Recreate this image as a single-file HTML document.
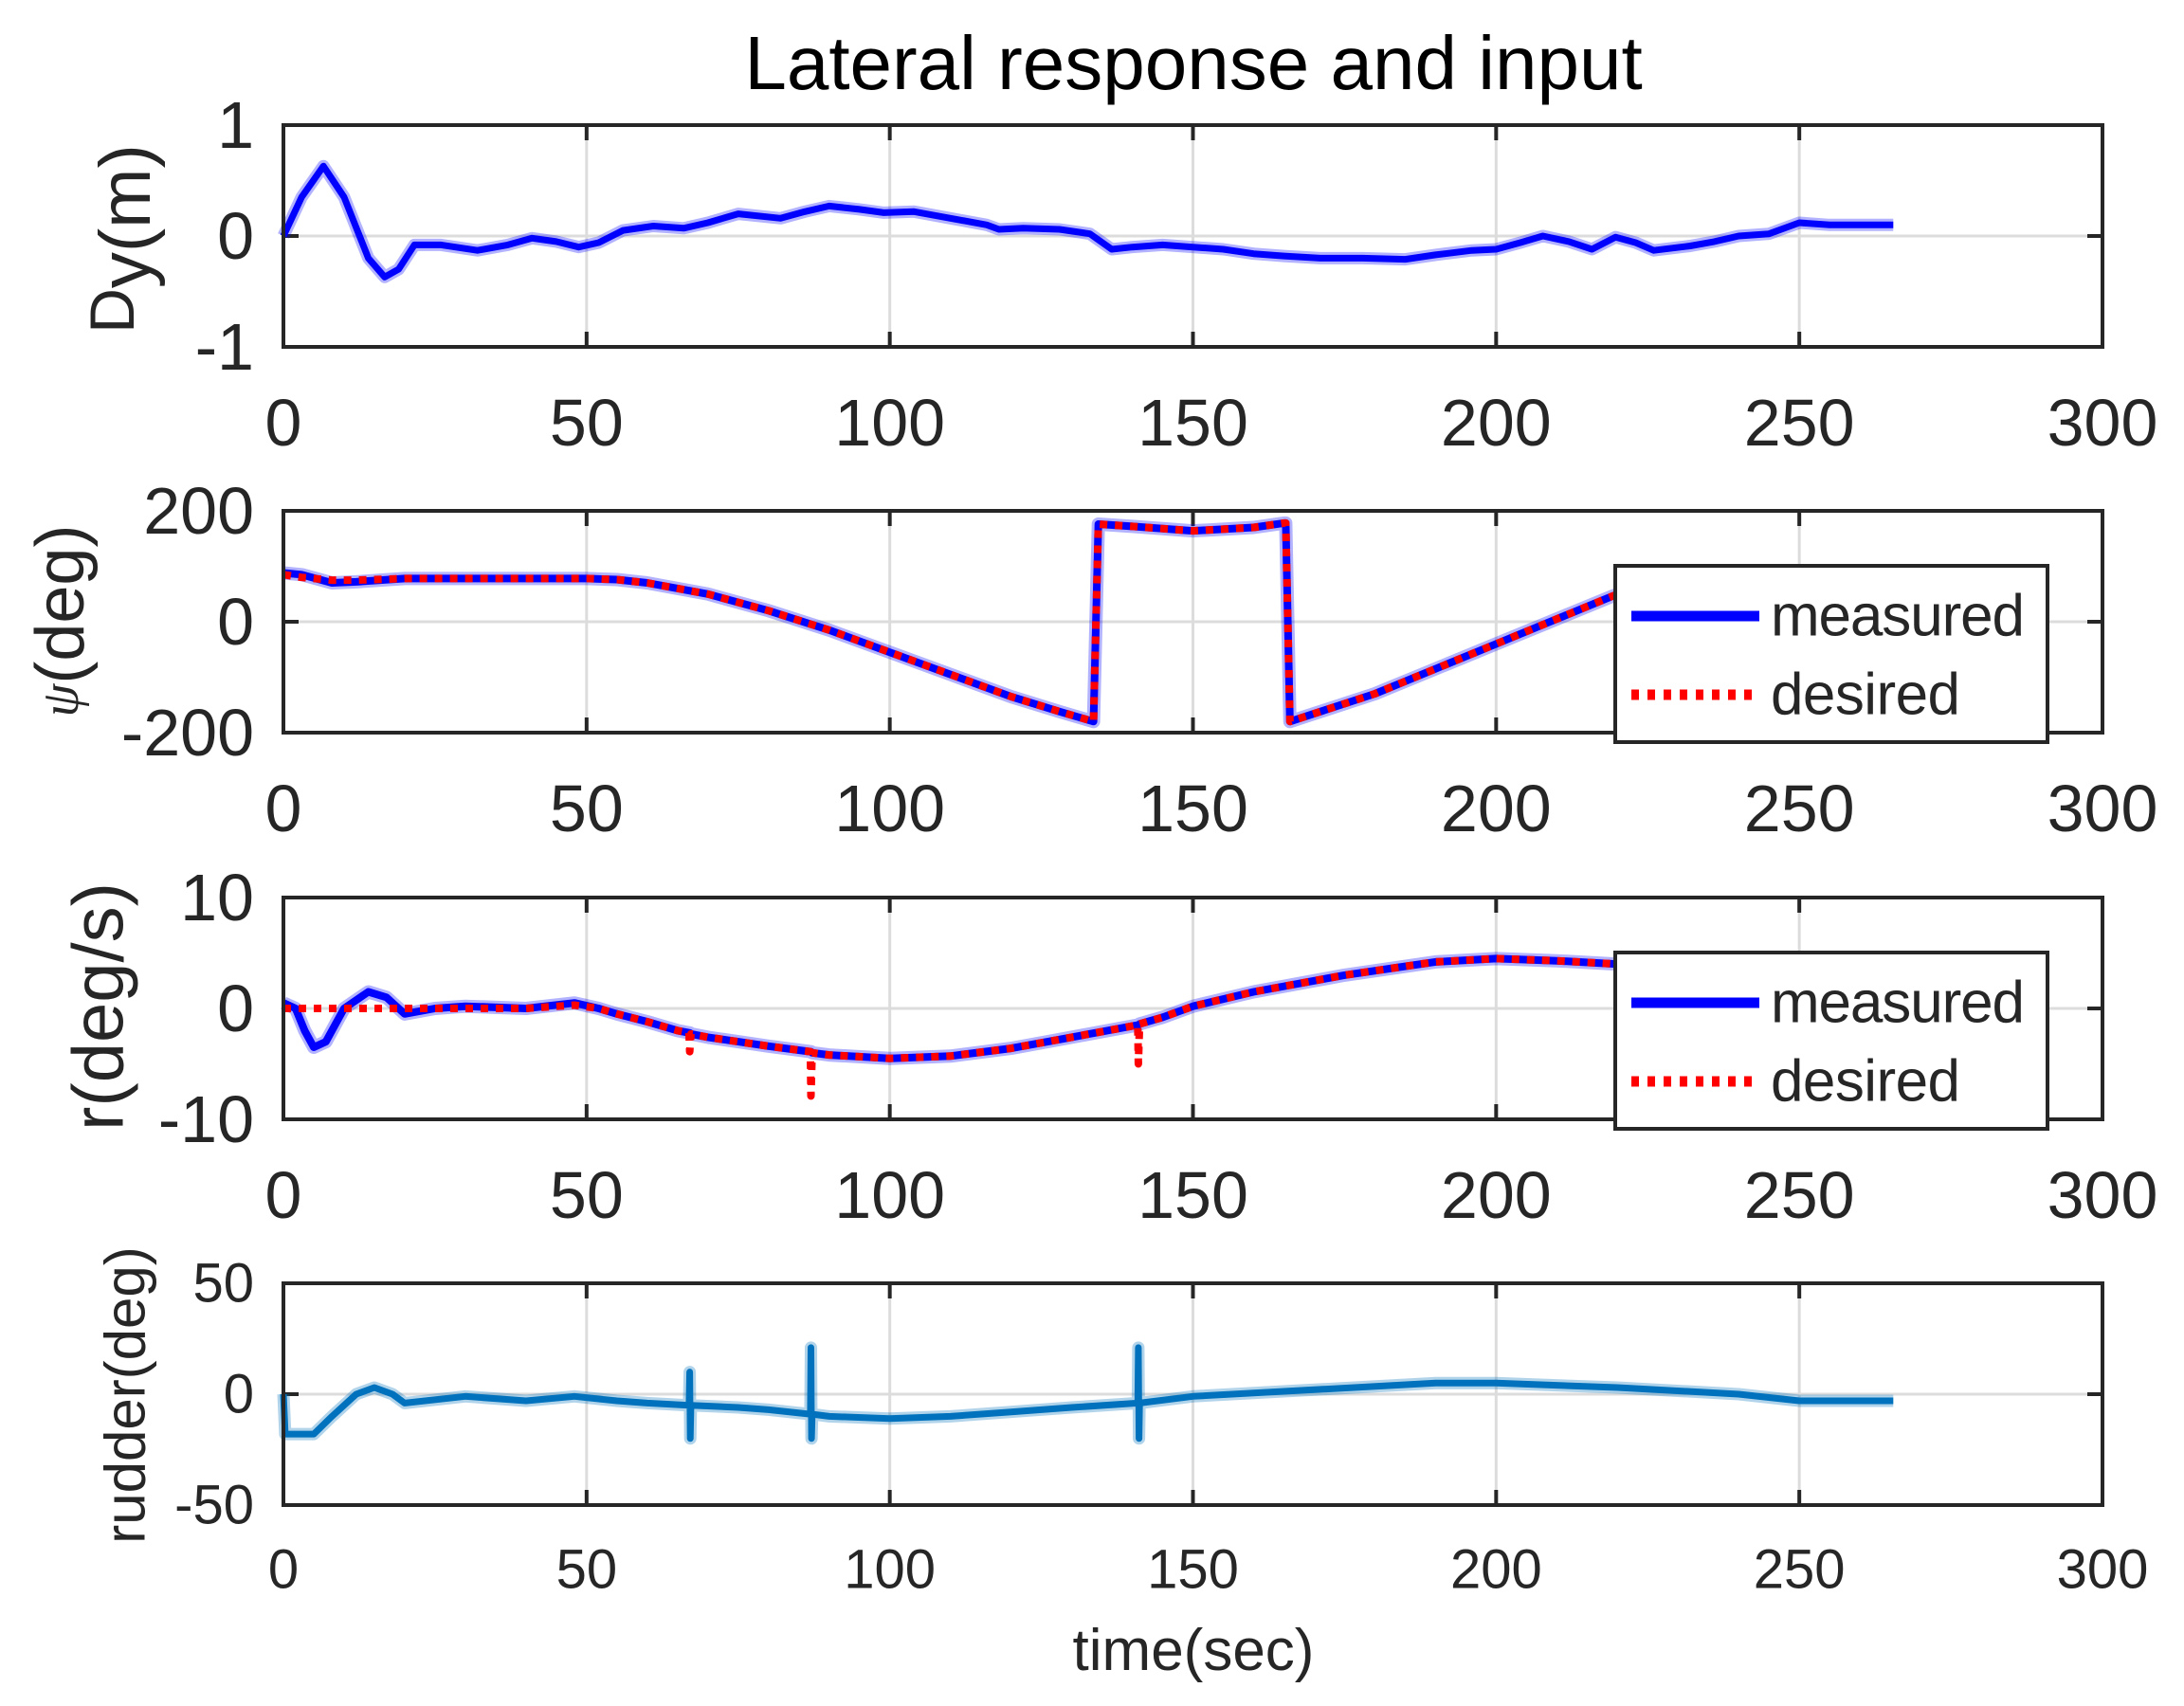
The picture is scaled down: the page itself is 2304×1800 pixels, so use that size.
<!DOCTYPE html>
<html><head><meta charset="utf-8"><style>
html,body{margin:0;padding:0;background:#fff;}
svg{display:block;font-family:"Liberation Sans",sans-serif;}
</style></head><body>
<svg id="fig" width="2304" height="1800" viewBox="0 0 2304 1800"></svg>
<script>
// ---- data ----
const timeTicks = [0,50,100,150,200,250,300];
const dyTicks = [-1,0,1];
const psiTicks = [-200,0,200];
const rTicks = [-10,0,10];
const rudTicks = [-50,0,50];

const dyT = [0,3,6.6,10,14,16.7,19,21.6,26,32,37,41,45,48.7,52,56,61,66,70,75,82,86,90,95,99,104,110,116,118,122,128,133,136.6,140,145,150,155,160,165,171,178,185,190,196,200,204,207.7,212,215.8,219.7,223,226,232,236,240,245,250,255,265.5];
const dyV = [0,0.35,0.63,0.35,-0.2,-0.37,-0.3,-0.08,-0.08,-0.13,-0.08,-0.02,-0.05,-0.1,-0.06,0.05,0.09,0.07,0.12,0.2,0.16,0.22,0.27,0.24,0.21,0.22,0.16,0.1,0.06,0.07,0.06,0.02,-0.12,-0.1,-0.08,-0.1,-0.12,-0.16,-0.18,-0.2,-0.2,-0.21,-0.17,-0.13,-0.12,-0.06,0.0,-0.05,-0.12,-0.01,-0.06,-0.13,-0.09,-0.05,0,0.02,0.12,0.1,0.1];

const psiT = [0,3,8,12,20,35,50,55,60,70,80,90,100,110,120,128,133.6,134.4,140,150,160,165,165.3,166,180,190,200,210,220,240,265];
const psiMeas = [88,85,70,72,78,78,78,76,70,50,20,-15,-55,-95,-135,-162,-180,176,172,164,170,178,178,-180,-130,-85,-40,5,50,70,90];
const psiDes = [85,80,75,75,78,78,78,76,70,50,20,-15,-55,-95,-135,-162,-180,176,172,164,170,178,178,-180,-130,-85,-40,5,50,70,90];

const rT = [0,2,3.5,5,7,10,14,17,20,25,30,40,48,52,55,60,65,66.9,67,67.2,70,75,80,86.9,87,87.2,90,100,110,120,130,140.9,141,141.2,145,150,160,175,190,200,210,220,265];
const rMeas = [0.5,0,-2,-3.5,-3,0,1.5,1,-0.5,0,0.2,0,0.5,0,-0.5,-1.2,-2,-2.2,-2.2,-2.3,-2.6,-3,-3.4,-3.9,-3.9,-4,-4.2,-4.5,-4.3,-3.6,-2.6,-1.5,-1.5,-1.4,-0.8,0.2,1.5,3,4.2,4.5,4.3,4.0,3.5];
const rDes = [0,0,0,0,0,0,0,0,0,0,0,0,0.3,0,-0.5,-1.2,-2,-2.2,-3.9,-2.3,-2.6,-3,-3.4,-3.9,-7.9,-4,-4.2,-4.5,-4.3,-3.6,-2.6,-1.5,-5.0,-1.4,-0.8,0.2,1.5,3,4.2,4.5,4.3,4.0,3.5];

const rudT = [0,0.3,1,5,8,12,15,18,20,30,40,48,55,60,66.9,67,67.1,67.2,75,80,86.9,87,87.1,87.2,90,100,110,120,130,140.9,141,141.1,141.2,150,170,190,200,220,240,250,265.5];
const rudV = [0,-18,-18,-18,-10,0,3,0,-4,-1,-3,-1,-3,-4,-5,10,-20,-5,-6,-7,-9,21,-20,-9,-10,-11,-10,-8,-6,-4,21,-20,-4,-1,2,5,5,3,0,-3,-3];

// ---- layout ----
const NS='http://www.w3.org/2000/svg';
const svg=document.getElementById('fig');
const X0=299, X1=2218;
const panels=[
 {top:132,h:234,min:-1,max:1,ticks:dyTicks,name:'dy',fs:70},
 {top:539,h:234,min:-200,max:200,ticks:psiTicks,name:'psi',fs:70},
 {top:947,h:234,min:-10,max:10,ticks:rTicks,name:'r',fs:70},
 {top:1354,h:234,min:-50,max:50,ticks:rudTicks,name:'rudder',fs:58}
];
function xs(t){return X0+(t-0)/(300-0)*(X1-X0);}
function ysFor(p){return v=>p.top+p.h-(v-p.min)/(p.max-p.min)*p.h;}
function mk(tag,attrs,parent){const e=document.createElementNS(NS,tag);for(const k in attrs)e.setAttribute(k,attrs[k]);(parent||svg).appendChild(e);return e;}
function pathD(T,V,ys){return T.map((t,i)=>(i?'L':'M')+xs(t).toFixed(1)+' '+ys(V[i]).toFixed(1)).join(' ');}

panels.forEach((p,pi)=>{
 const g=mk('g',{});
 
 
 const ys=ysFor(p);
 const bot=p.top+p.h;
 timeTicks.forEach(t=>{const l=mk('line',{x1:xs(t),x2:xs(t),y1:p.top,y2:bot,stroke:'#dcdcdc','stroke-width':3},g);
  });
 p.ticks.forEach(v=>{const l=mk('line',{x1:X0,x2:X1,y1:ys(v),y2:ys(v),stroke:'#dcdcdc','stroke-width':3},g);
  });
 timeTicks.forEach(t=>{mk('line',{x1:xs(t),x2:xs(t),y1:p.top,y2:p.top+16,stroke:'#262626','stroke-width':4},g);
  mk('line',{x1:xs(t),x2:xs(t),y1:bot,y2:bot-16,stroke:'#262626','stroke-width':4},g);});
 p.ticks.forEach(v=>{mk('line',{x1:X0,x2:X0+16,y1:ys(v),y2:ys(v),stroke:'#262626','stroke-width':4},g);
  mk('line',{x1:X1,x2:X1-16,y1:ys(v),y2:ys(v),stroke:'#262626','stroke-width':4},g);});
 timeTicks.forEach(t=>{const tx=mk('text',{x:xs(t),y:bot+80+(pi==3?-12:0),'font-size':pi==3?58:70,'text-anchor':'middle','dominant-baseline':'central',fill:'#262626'},g);
  tx.textContent=t;});
 p.ticks.forEach(v=>{const tx=mk('text',{x:268,y:ys(v),'font-size':p.fs,'text-anchor':'end','dominant-baseline':'central',fill:'#262626'},g);
  tx.textContent=v;});
 p.g=g;p.ys=ys;
});

function series(p,T,V,color,w,dash,name,halo){
 if(halo){const h=mk('path',{d:pathD(T,V,p.ys),fill:'none',stroke:halo,'stroke-width':w+6,'stroke-linejoin':'round','stroke-opacity':0.3},p.g);
  }
 const a={d:pathD(T,V,p.ys),fill:'none',stroke:color,'stroke-width':w,'stroke-linejoin':'round'};
 if(dash)a['stroke-dasharray']=dash;
 const e=mk('path',a,p.g);
 
 
}
series(panels[0],dyT,dyV,'#0000ff',7,null,'dy-measured-line','#0000ff');
series(panels[1],psiT,psiMeas,'#0000ff',8,null,'psi-measured-line','#0000ff');
series(panels[1],psiT,psiDes,'#ff0000',8,'8 8','psi-desired-line',null);
series(panels[2],rT,rMeas,'#0000ff',8,null,'r-measured-line','#0000ff');
series(panels[2],rT,rDes,'#ff0000',8,'8 8','r-desired-line',null);
series(panels[3],rudT,rudV,'#0072bd',7,null,'rudder-line','#0072bd');

panels.forEach(p=>{const r=mk('rect',{x:X0,y:p.top,width:X1-X0,height:p.h,fill:'none',stroke:'#262626','stroke-width':4},p.g);
 });

[1,2].forEach(pi=>{
 const p=panels[pi];
 const top=pi==1?597:1005;
 const g=mk('g',{});
 
 
 mk('rect',{x:1704,y:top,width:456,height:186,fill:'#fff',stroke:'#262626','stroke-width':4},g);
 const e1=mk('g',{},g);
 
 
 mk('line',{x1:1721,x2:1856,y1:top+53,y2:top+53,stroke:'#0000ff','stroke-width':11},e1);
 const t1=mk('text',{x:1868,y:top+53,'font-size':62,'dominant-baseline':'central',fill:'#262626',textLength:268},e1);t1.textContent='measured';
 const e2=mk('g',{},g);
 
 
 mk('line',{x1:1721,x2:1856,y1:top+136,y2:top+136,stroke:'#ff0000','stroke-width':11,'stroke-dasharray':'8 9'},e2);
 const t2=mk('text',{x:1868,y:top+136,'font-size':62,'dominant-baseline':'central',fill:'#262626',textLength:200},e2);t2.textContent='desired';
});
</script>
<script>
(function(){
const NS='http://www.w3.org/2000/svg';const svg=document.getElementById('fig');
function mk(tag,attrs){const e=document.createElementNS(NS,tag);for(const k in attrs)e.setAttribute(k,attrs[k]);svg.appendChild(e);return e;}
const title=mk('text',{x:1259,y:94,'font-size':80,'text-anchor':'middle',fill:'#000'});
title.textContent='Lateral response and input';


const xl=mk('text',{x:1259,y:1762,'font-size':62,'text-anchor':'middle',fill:'#262626'});
xl.textContent='time(sec)';


const y1=mk('text',{x:0,y:0,'font-size':76,'text-anchor':'middle','dominant-baseline':'central',fill:'#262626',transform:'translate(132,252) rotate(-90)'});
y1.innerHTML='<tspan font-size="66" dy="-14">D</tspan><tspan dy="14">y(m)</tspan>';


const y2=mk('text',{x:0,y:0,'font-size':72,'text-anchor':'middle','dominant-baseline':'central',fill:'#262626',transform:'translate(64,655) rotate(-90)'});
y2.innerHTML='<tspan font-style="italic" font-size="56" font-family="Liberation Serif">ψ</tspan>(deg)';


const y3=mk('text',{x:0,y:0,'font-size':76,'text-anchor':'middle','dominant-baseline':'central',fill:'#262626',transform:'translate(104,1062) rotate(-90)'});
y3.textContent='r(deg/s)';


const y4=mk('text',{x:0,y:0,'font-size':60,'text-anchor':'middle','dominant-baseline':'central',fill:'#262626',transform:'translate(132,1472) rotate(-90)'});
y4.textContent='rudder(deg)';


})();
</script>
</body></html>
